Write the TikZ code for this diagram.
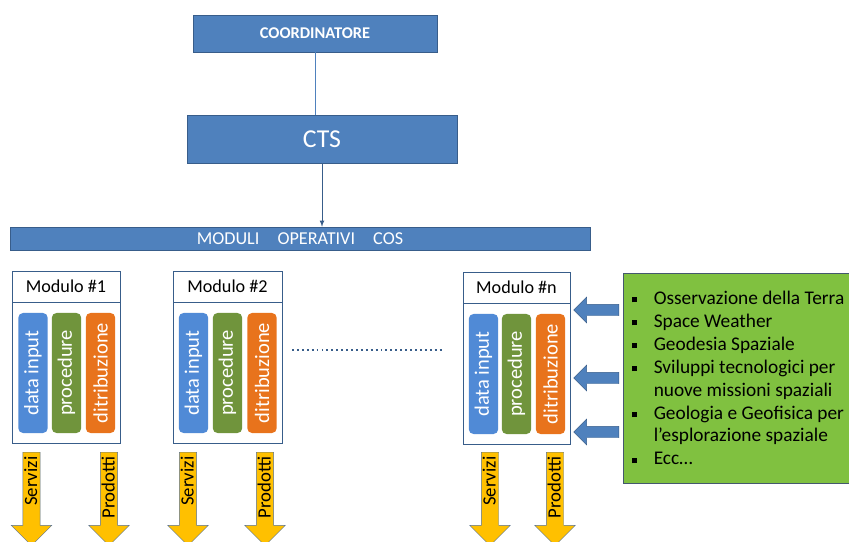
\documentclass[tikz,border=0pt]{standalone}
\usepackage{fontspec}
\setmainfont{Carlito}
\usetikzlibrary{shapes.arrows,positioning}
\definecolor{boxblue}{RGB}{79,129,189}
\definecolor{boxline}{RGB}{56,93,138}
\definecolor{barblue}{RGB}{80,138,214}
\definecolor{bargreen}{RGB}{112,148,60}
\definecolor{barorange}{RGB}{232,115,28}
\definecolor{listgreen}{RGB}{128,193,64}
\definecolor{listline}{RGB}{68,88,110}
\definecolor{outyellow}{RGB}{255,192,0}
\definecolor{outline}{RGB}{84,112,150}

\newcommand{\sqbullet}{\makebox[0.66cm][l]{\rule[1.6pt]{4.3pt}{4.3pt}}}

\begin{document}
\begin{tikzpicture}[x=0.03cm,y=-0.03cm]
    \tikzstyle{every node}=[font=\small]
    \tikzstyle{bluebox}=[draw=boxline, fill=boxblue, text=white]
    \tikzstyle{modtitle}=[draw=boxline, fill=white, minimum height=0.93cm, font=\fontsize{15.5}{18}\selectfont]
    \tikzstyle{modbody}=[draw=boxline, thick, fill=white, minimum height=4.23cm]
    \tikzstyle{bar}=[rounded corners=4pt, rotate=90, minimum width=3.6cm, minimum height=0.88cm, inner sep=0pt, text=white, font=\fontsize{17.5}{20}\selectfont]
    \tikzstyle{outarrow}=[single arrow, shape border rotate=180, rotate=90, draw=outline, fill=outyellow,
        single arrow head extend=9.8pt, single arrow tip angle=90, text width=2.28cm, align=right,
        text height=10.5pt, text depth=1pt, inner xsep=3.5pt, inner ysep=1.5pt, anchor=tail,
        font=\fontsize{16}{18}\selectfont]
    \tikzstyle{inarrow}=[single arrow, shape border rotate=180, draw=boxline, fill=boxblue,
        single arrow head extend=0.21cm, single arrow tip angle=90, minimum height=1.35cm,
        inner xsep=0pt, inner ysep=0.165cm, anchor=tail]

    \useasboundingbox (0,0) rectangle (849,542);
    \clip (0,0) rectangle (849,542);

    % Top of the hierarchy
    \node[bluebox, minimum width=7.32cm, minimum height=1.11cm, font=\fontsize{14}{16}\selectfont\bfseries] at (315,33.5) (coord) {COORDINATORE};
    \node[bluebox, minimum width=8.1cm, minimum height=1.44cm, font=\fontsize{22}{26}\selectfont] at (322,139.5) (cts) {CTS};
    \node[bluebox, minimum width=17.4cm, minimum height=0.69cm, font=\fontsize{15.5}{17}\selectfont] at (300,238.5) (cos) {MODULI\quad OPERATIVI\quad COS};

    \draw[boxblue, thick] (coord) -- (coord |- cts.north);
    \draw[boxline, thick, -latex] (cts) -- (cts |- cos.north);

    % Modulo #1
    \node[modtitle, minimum width=3.24cm] at (66,286.5) (M1t) {Modulo \#1};
    \node[modbody, minimum width=3.24cm] at (66,372.5) (M1b) {};
    \node[bar, fill=barblue] at (33,373) (M1a) {data input};
    \node[bar, fill=bargreen] at (66.5,373) (M1p) {procedure};
    \node[bar, fill=barorange] at (100.5,373) (M1d) {ditribuzione};
    \node[outarrow] at (31.5,452) (M1s) {Servizi};
    \node[outarrow] at (109,452) (M1o) {Prodotti};

    % Modulo #2
    \node[modtitle, minimum width=3.27cm] at (227.5,286.5) (M2t) {Modulo \#2};
    \node[modbody, minimum width=3.27cm] at (227.5,372.5) (M2b) {};
    \node[bar, fill=barblue] at (193.5,373) (M2a) {data input};
    \node[bar, fill=bargreen] at (227.5,373) (M2p) {procedure};
    \node[bar, fill=barorange] at (262,373) (M2d) {ditribuzione};
    \node[outarrow] at (188,452) (M2s) {Servizi};
    \node[outarrow] at (265,452) (M2o) {Prodotti};

    % Modulo #n
    \node[modtitle, minimum width=3.21cm] at (516.5,287.5) (Mnt) {Modulo \#n};
    \node[modbody, minimum width=3.21cm] at (516.5,373.5) (Mnb) {};
    \node[bar, fill=barblue] at (483.5,374) (Mna) {data input};
    \node[bar, fill=bargreen] at (516.5,374) (Mnp) {procedure};
    \node[bar, fill=barorange] at (550.5,374) (Mnd) {ditribuzione};
    \node[outarrow] at (490,452) (Mns) {Servizi};
    \node[outarrow] at (555,452) (Mno) {Prodotti};

    % Dots between the modules
    \coordinate (dotA) at (292,350);
    \coordinate (dotB) at (443,350);
    \draw[boxline, line width=1.6pt, dash pattern=on 1.6pt off 2.6pt] (dotA) -- (dotB);

    % Activity list
    \node[draw=listline, thick, fill=listgreen, minimum width=6.87cm, minimum height=6.3cm] at (737.5,378) (list) {};
    \node[anchor=north west, align=left, inner sep=0pt, font=\fontsize{16.5}{19.6}\selectfont] at ([shift={(9,18)}]list.north west) (items) {%
        \sqbullet Osservazione della Terra\\
        \sqbullet Space Weather\\
        \sqbullet Geodesia Spaziale\\
        \sqbullet Sviluppi tecnologici per\\
        \hspace*{0.66cm}nuove missioni spaziali\\
        \sqbullet Geologia e Geofisica per\\
        \hspace*{0.66cm}l'esplorazione spaziale\\
        \sqbullet Ecc\ldots};

    % Inputs to the module
    \node[inarrow] at ([xshift=-3]list.west |- 0,310) (in1) {};
    \node[inarrow] at ([xshift=-3]list.west |- 0,378) (in2) {};
    \node[inarrow] at ([xshift=-3]list.west |- 0,432) (in3) {};

\end{tikzpicture}
\end{document}
